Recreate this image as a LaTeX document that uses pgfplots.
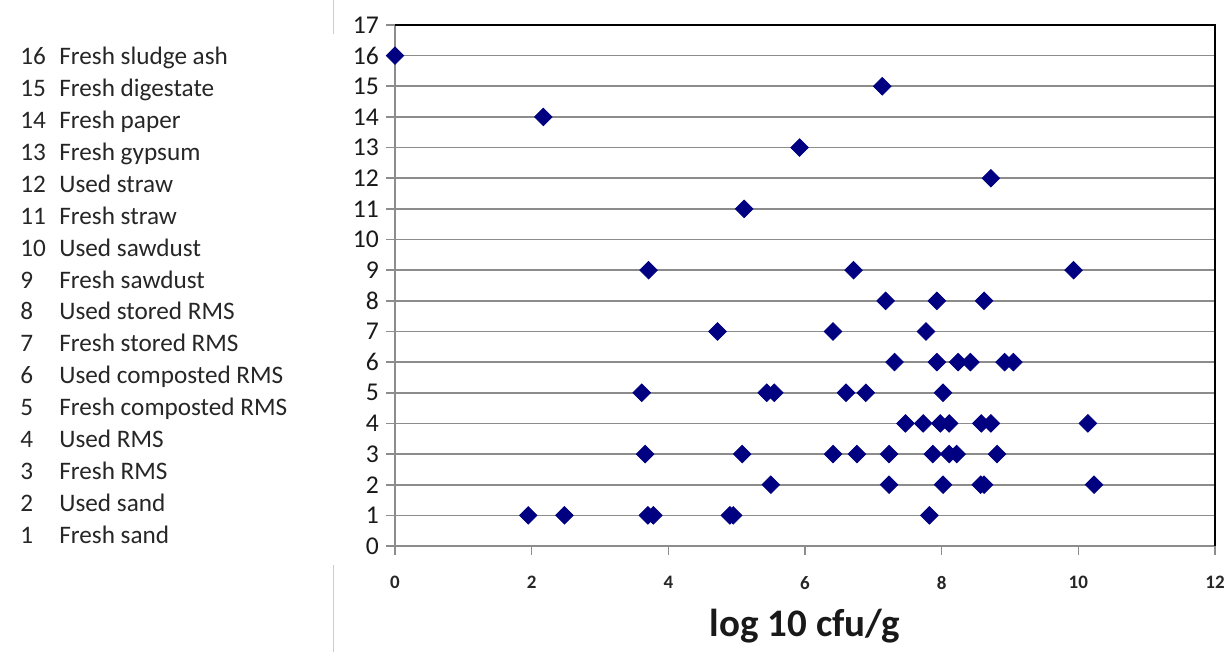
\documentclass[border=0pt]{standalone}
\usepackage{pgfplots}
\pgfplotsset{compat=1.18}
\usepackage{fontspec}
\setmainfont{Carlito}
\definecolor{navy}{RGB}{0,0,128}
\definecolor{gridgray}{RGB}{140,140,140}
\begin{document}
\begin{tikzpicture}
\useasboundingbox (0,0) rectangle (614.5pt,326pt);
\draw[gray!40, line width=0.5pt] (166.5pt,326pt) -- (166.5pt,309pt);
\draw[gray!40, line width=0.5pt] (166.5pt,43.5pt) -- (166.5pt,0pt);
\foreach \k/\t [count=\i from 0] in {16/Fresh sludge ash,15/Fresh digestate,14/Fresh paper,13/Fresh gypsum,12/Used straw,11/Fresh straw,10/Used sawdust,9/Fresh sawdust,8/Used stored RMS,7/Fresh stored RMS,6/Used composted RMS,5/Fresh composted RMS,4/Used RMS,3/Fresh RMS,2/Used sand,1/Fresh sand}{
  \node[anchor=base west, inner sep=0pt, font=\fontsize{12.6}{15}\selectfont, text=black!85] at (10pt,{293.5pt-\i*15.935pt}) {\k};
  \node[anchor=base west, inner sep=0pt, font=\fontsize{12.6}{15}\selectfont, text=black!85] at (29.5pt,{293.5pt-\i*15.935pt}) {\t};
}
\begin{axis}[
  at={(197.5pt,53pt)}, anchor=south west,
  scale only axis, width=410pt, height=260.5pt,
  xmin=0, xmax=12, ymin=0, ymax=17,
  xtick={0,2,...,12}, ytick={0,1,...,17},
  ymajorgrids,
  grid style={draw=gridgray, line width=0.8pt},
  axis x line*=bottom, axis y line*=left,
  axis line style={draw=gridgray, line width=0.8pt, -},
  tick align=outside, major tick length=4.5pt,
  tick style={draw=gridgray, line width=0.8pt},
  /pgf/number format/assume math mode=true,
  xticklabel style={font=\bfseries\fontsize{9.5}{11}\selectfont, text=black!85, yshift=-7pt},
  yticklabel style={font=\fontsize{12.8}{14}\selectfont, text=black!90},
  xlabel={log 10 cfu/g},
  xlabel style={font=\bfseries\fontsize{19.5}{24}\selectfont, at={(axis description cs:0.5,0)}, anchor=center, yshift=-40pt, text=black!90},
  clip=false,
]
\addplot[only marks, mark=square*, mark size=3.1pt, color=navy, mark options={rotate=45, fill=navy, draw=navy}] coordinates {
(0,16)
(7.13,15)
(2.17,14)
(5.92,13)
(8.72,12)
(5.11,11)
(3.71,9) (6.71,9) (9.93,9)
(7.18,8) (7.93,8) (8.62,8)
(4.72,7) (6.41,7) (7.77,7)
(7.31,6) (7.93,6) (8.24,6) (8.42,6) (8.92,6) (9.05,6)
(3.61,5) (5.44,5) (5.55,5) (6.60,5) (6.89,5) (8.02,5)
(7.47,4) (7.73,4) (7.98,4) (8.11,4) (8.58,4) (8.72,4) (10.14,4)
(3.66,3) (5.08,3) (6.41,3) (6.76,3) (7.23,3) (7.87,3) (8.11,3) (8.22,3) (8.81,3)
(5.50,2) (7.23,2) (8.02,2) (8.57,2) (8.62,2) (10.23,2)
(1.95,1) (2.48,1) (3.70,1) (3.78,1) (4.90,1) (4.95,1) (7.82,1)
};
\draw[black, line width=0.8pt] (rel axis cs:0,1) -- (rel axis cs:1,1) -- (rel axis cs:1,0);
\end{axis}
\end{tikzpicture}
\end{document}
